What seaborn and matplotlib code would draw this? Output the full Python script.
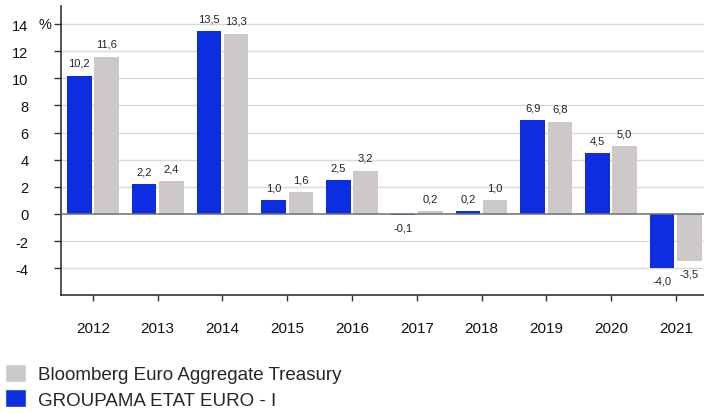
import pandas as pd
import matplotlib.pyplot as plt
import seaborn as sns
from matplotlib.patches import Patch

# Data
YEARS = ['2012', '2013', '2014', '2015', '2016', '2017', '2018', '2019', '2020', '2021']
FUND = [10.2, 2.2, 13.5, 1.0, 2.5, -0.1, 0.2, 6.9, 4.5, -4.0]
BENCH = [11.6, 2.4, 13.3, 1.6, 3.2, 0.2, 1.0, 6.8, 5.0, -3.5]
FUND_NAME = 'GROUPAMA ETAT EURO - I'
BENCH_NAME = 'Bloomberg Euro Aggregate Treasury'
Y_TICKS = [-4, -2, 0, 2, 4, 6, 8, 10, 12, 14]

BLUE = '#0d2de0'
GREY = '#cdc9c9'

sns.set_style('white')
plt.rcParams['font.family'] = ['Liberation Sans', 'DejaVu Sans']

df = pd.DataFrame({
    'year': YEARS * 2,
    'value': FUND + BENCH,
    'series': [FUND_NAME] * len(YEARS) + [BENCH_NAME] * len(YEARS),
})

fig = plt.figure(figsize=(7.04, 4.14), dpi=100)
ax = fig.add_axes([0.086, 0.2843, 0.92, 0.6995])

# grid behind bars
for t in Y_TICKS:
    if t != 0:
        ax.axhline(t, color='#d9d9d9', lw=1.0, zorder=0)

sns.barplot(data=df, x='year', y='value', hue='series',
            hue_order=[FUND_NAME, BENCH_NAME],
            palette=[BLUE, GREY], width=0.84, gap=0.1,
            saturation=1, legend=False, linewidth=0, ax=ax, zorder=2)

# zero line on top of the bars
ax.axhline(0, color='#6f6f6f', lw=1.1, zorder=3)

# value labels
for container in ax.containers:
    for bar in container:
        h = bar.get_height()
        x = bar.get_x() + bar.get_width() / 2
        txt = f'{h:.1f}'.replace('.', ',')
        if h >= 0:
            ax.annotate(txt, (x, h), xytext=(0, 7), textcoords='offset points',
                        ha='center', va='baseline', fontsize=8, color='#222222')
        else:
            ax.annotate(txt, (x, h), xytext=(0, -5), textcoords='offset points',
                        ha='center', va='top', fontsize=8, color='#222222')

ax.set_xlim(-0.5, 9.5)
ax.set_ylim(-6, 15.35)
ax.set_yticks(Y_TICKS)
ax.set_yticklabels([str(t) for t in Y_TICKS])
ax.set_xlabel('')
ax.set_ylabel('')

ax.tick_params(axis='y', length=5, width=1, pad=18, labelsize=10.5,
               left=True, colors='#333333', labelcolor='#111111')
ax.tick_params(axis='x', length=4.5, width=1, pad=14, labelsize=11,
               bottom=True, colors='#333333', labelcolor='#111111')

for side in ['top', 'right']:
    ax.spines[side].set_visible(False)
for side in ['left', 'bottom']:
    ax.spines[side].set_color('#333333')
    ax.spines[side].set_linewidth(1.2)

ax.text(-0.5, 14, '%  ', transform=ax.transData, ha='right', va='center',
        fontsize=10.5, color='#111111')

handles = [Patch(facecolor=GREY, label=BENCH_NAME),
           Patch(facecolor=BLUE, label=FUND_NAME)]
fig.legend(handles=handles, loc='upper left', bbox_to_anchor=(0.002, 0.128),
           frameon=False, fontsize=13.5, handlelength=1.1, handleheight=1.1,
           handletextpad=0.65, labelspacing=0.32, borderaxespad=0, borderpad=0.2)

plt.savefig('out.png', dpi=100)
